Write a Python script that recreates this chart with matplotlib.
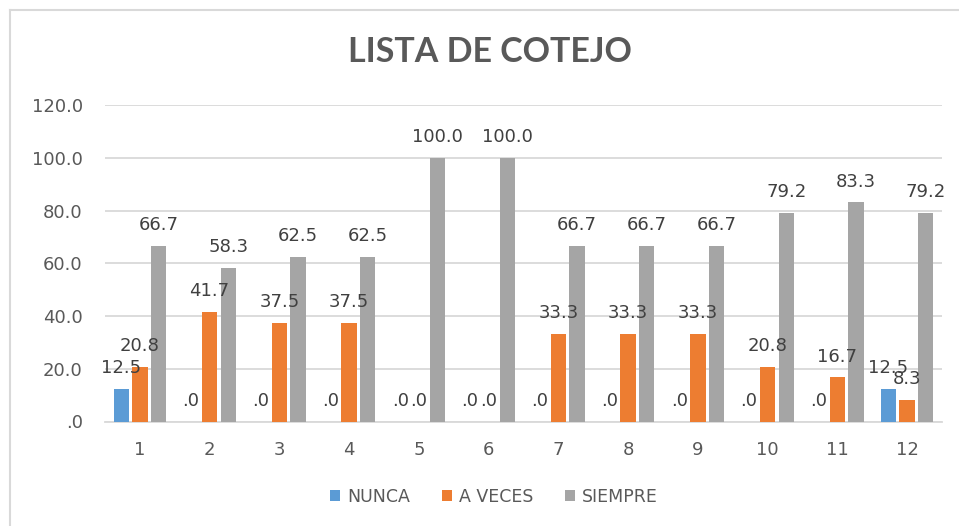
import matplotlib
matplotlib.use("Agg")
import matplotlib.pyplot as plt
import numpy as np
from matplotlib.lines import Line2D
from matplotlib.patches import Patch

categories = ["1", "2", "3", "4", "5", "6", "7", "8", "9", "10", "11", "12"]
nunca = [12.5, 0, 0, 0, 0, 0, 0, 0, 0, 0, 0, 12.5]
a_veces = [20.8, 41.7, 37.5, 37.5, 0, 0, 33.3, 33.3, 33.3, 20.8, 16.7, 8.3]
siempre = [66.7, 58.3, 62.5, 62.5, 100.0, 100.0, 66.7, 66.7, 66.7, 79.2, 83.3, 79.2]
series_names = ["NUNCA", "A VECES", "SIEMPRE"]
y_ticks = [0, 20, 40, 60, 80, 100, 120]

colors = ["#5B9BD5", "#ED7D31", "#A5A5A5"]
TEXT = "#595959"
GRID = "#D9D9D9"

plt.rcParams["font.family"] = ["DejaVu Sans"]


def fmt(v):
    # Excel "#.0" style: zero shows as ".0"
    s = f"{v:.1f}"
    return s[1:] if s.startswith("0") else s


fig = plt.figure(figsize=(9.59, 5.26), dpi=100)
ax = fig.add_axes([105 / 959, 1 - 421.5 / 526, (942 - 105) / 959, (421.5 - 105) / 526])

x = np.arange(1, len(categories) + 1)
width = 0.22
offsets = [-0.268, 0, 0.268]

for vals, off, col in zip([nunca, a_veces, siempre], offsets, colors):
    bars = ax.bar(x + off, vals, width, color=col, zorder=3)
    for b, v in zip(bars, vals):
        ax.annotate(fmt(v), (b.get_x() + b.get_width() / 2, v),
                    xytext=(0, 11), textcoords="offset points",
                    ha="center", va="baseline", fontsize=13, color="#404040",
                    zorder=4)

ax.set_xlim(0.5, 12.5)
ax.set_ylim(0, 120)
ax.set_yticks(y_ticks)
ax.set_yticklabels([fmt(t) for t in y_ticks])
ax.set_xticks(x)
ax.set_xticklabels(categories)
ax.tick_params(axis="both", length=0, labelsize=13, labelcolor=TEXT)
ax.tick_params(axis="y", pad=16)
ax.tick_params(axis="x", pad=14)
ax.yaxis.grid(True, color=GRID, lw=1.3, zorder=0)
for s in ["top", "right", "left"]:
    ax.spines[s].set_visible(False)
ax.spines["bottom"].set_color(GRID)
ax.spines["bottom"].set_linewidth(1.3)

fig.text(0.511, 1 - 52 / 526, "LISTA DE COTEJO", ha="center", va="center",
         fontsize=24.5, fontweight="bold", color=TEXT, family=["Lato", "DejaVu Sans"])

handles = [Patch(facecolor=c, edgecolor="none") for c in colors]
fig.legend(handles, series_names, loc="center", bbox_to_anchor=(0.515, 1 - 497 / 526),
           ncol=3, frameon=False, fontsize=12.5, handlelength=0.6, handleheight=0.6,
           handletextpad=0.4, columnspacing=1.8, labelcolor=TEXT)

# chart border (Excel style)
fig.add_artist(Line2D([10 / 959, 10 / 959], [0, 1 - 10 / 526], color=GRID, lw=1.5))
fig.add_artist(Line2D([10 / 959, 1], [1 - 10 / 526, 1 - 10 / 526], color=GRID, lw=1.5))

fig.savefig("out.png", dpi=100, facecolor="white")
